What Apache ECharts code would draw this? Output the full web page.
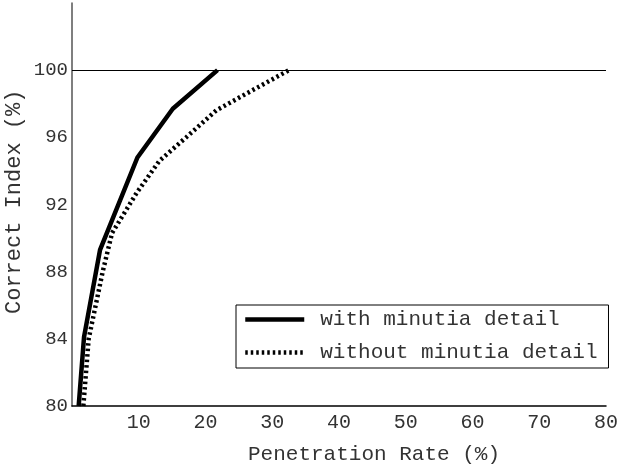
<!DOCTYPE html>
<html>
<head>
<meta charset="utf-8">
<script src="https://cdn.jsdelivr.net/npm/echarts@6/dist/echarts.min.js"></script>
<style>
html,body{margin:0;padding:0;background:#fff;}
#chart{width:621px;height:470px;}
</style>
</head>
<body>
<div id="chart"></div>
<script>
var seriesNames = ['with minutia detail', 'without minutia detail'];
var withX = [1.0, 1.8, 4.2, 9.8, 15.1, 21.8];
var withY = [80, 84.1, 89.3, 94.8, 97.7, 100];
var withoutX = [1.7, 2.5, 4.6, 6.0, 9.7, 13.1, 17.1, 21.6, 26.1, 32.5];
var withoutY = [80, 84, 88, 90.3, 92.7, 94.6, 96.0, 97.6, 98.6, 100];
var xTicks = [10, 20, 30, 40, 50, 60, 70, 80];
var yTicks = [80, 84, 88, 92, 96, 100];
var xTitle = 'Penetration Rate (%)';
var yTitle = 'Correct Index (%)';

function pairs(xs, ys) { return xs.map(function (x, i) { return [x, ys[i]]; }); }

var FONT = '"Liberation Mono", "Courier New", monospace';
var DASH = [2.5, 3];
var chart = echarts.init(document.getElementById('chart'), null, {renderer: 'canvas'});
chart.setOption({
  animation: false,
  backgroundColor: '#fff',
  grid: {left: 72, right: 12, top: 3, bottom: 64, containLabel: false},
  xAxis: {
    type: 'value', min: 0, max: 80, interval: 10,
    axisLine: {show: true, onZero: false, lineStyle: {color: '#000', width: 1.5}},
    axisTick: {show: false},
    splitLine: {show: false},
    axisLabel: {
      margin: 7, color: '#333', fontFamily: FONT, fontSize: 20,
      formatter: function (v) { return xTicks.indexOf(v) >= 0 ? String(v) : ''; }
    }
  },
  yAxis: {
    type: 'value', min: 80, max: 104, interval: 4,
    axisLine: {show: true, onZero: false, lineStyle: {color: '#555', width: 1.5}},
    axisTick: {show: false},
    splitLine: {show: false},
    axisLabel: {
      margin: 4, color: '#333', fontFamily: FONT, fontSize: 19,
      formatter: function (v) { return yTicks.indexOf(v) >= 0 ? String(v) : ''; }
    }
  },
  legend: {
    orient: 'vertical', left: 236, top: 305,
    data: [
      {name: seriesNames[0], lineStyle: {width: 4.5, color: '#000', type: 'solid'}},
      {name: seriesNames[1], lineStyle: {width: 4.5, color: '#000', type: DASH}}
    ],
    borderColor: '#000', borderWidth: 1, borderRadius: 0,
    padding: [4, 11, 5, 7],
    itemWidth: 59, itemHeight: 14, itemGap: 12,
    itemStyle: {opacity: 0},
    textStyle: {color: '#333', fontFamily: FONT, fontSize: 21, lineHeight: 21, padding: [0, 0, 0, 11]}
  },
  graphic: [
    {type: 'text', x: 374, y: 444, style: {text: xTitle, fill: '#333', font: '21px ' + FONT, textAlign: 'center', textVerticalAlign: 'top'}},
    {type: 'text', x: 3, y: 314, rotation: Math.PI / 2, style: {text: yTitle, fill: '#333', font: '22px ' + FONT, textAlign: 'left', textVerticalAlign: 'top'}}
  ],
  series: [
    {
      name: seriesNames[0], type: 'line', data: pairs(withX, withY),
      symbol: 'none', lineStyle: {color: '#000', width: 4.5},
      itemStyle: {color: '#000'},
      markLine: {
        silent: true, symbol: ['none', 'none'], label: {show: false},
        lineStyle: {color: '#000', width: 1, type: 'solid'},
        data: [{yAxis: 100}]
      }
    },
    {
      name: seriesNames[1], type: 'line', data: pairs(withoutX, withoutY),
      symbol: 'none', lineStyle: {color: '#000', width: 4.5, type: DASH, cap: 'butt'},
      itemStyle: {color: '#000'}
    }
  ]
});
</script>
</body>
</html>
